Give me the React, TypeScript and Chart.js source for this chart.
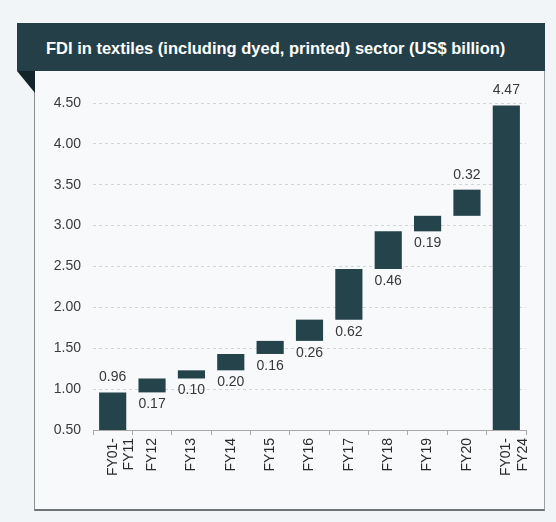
import React, { useEffect, useRef } from "react";
import { Chart, registerables } from "chart.js";

Chart.register(...registerables);

const categories: (string | string[])[] = [
  ["FY01-", "FY11"],
  "FY12",
  "FY13",
  "FY14",
  "FY15",
  "FY16",
  "FY17",
  "FY18",
  "FY19",
  "FY20",
  ["FY01-", "FY24"],
];
const increments = [0.96, 0.17, 0.1, 0.2, 0.16, 0.26, 0.62, 0.46, 0.19, 0.32];
const total = 4.47;
const yMin = 0.5;
const yMax = 4.5;
const yStep = 0.5;
const title = "FDI in textiles (including dyed, printed) sector (US$ billion)";

const labelAboveIdx = new Set([0, 9, 10]);

const FONT = '"Liberation Sans", Arial, sans-serif';

export default function App() {
  const ref = useRef<HTMLCanvasElement | null>(null);

  useEffect(() => {
    if (!ref.current) return;
    // waterfall ranges built from increments
    const ranges: [number, number][] = [];
    let acc = 0;
    increments.forEach((v, i) => {
      const start = i === 0 ? 0 : acc;
      acc = start + v;
      ranges.push([start, acc]);
    });
    ranges.push([0, total]);
    const labelValues = [...increments, total];

    const labelPlugin = {
      id: "wfLabels",
      afterDatasetsDraw(chart: any) {
        const ctx = chart.ctx;
        const meta = chart.getDatasetMeta(0);
        ctx.save();
        ctx.font = `14px ${FONT}`;
        ctx.fillStyle = "#383838";
        ctx.textAlign = "center";
        ctx.textBaseline = "alphabetic";
        meta.data.forEach((el: any, i: number) => {
          const top = Math.min(el.y, el.base);
          const bottom = Math.max(el.y, el.base);
          const txt = labelValues[i].toFixed(2);
          if (labelAboveIdx.has(i)) {
            ctx.fillText(txt, el.x, top - 11);
          } else {
            ctx.fillText(txt, el.x, bottom + 16);
          }
        });
        ctx.restore();
      },
    };

    const chart = new Chart(ref.current, {
      type: "bar",
      data: {
        labels: categories as any,
        datasets: [
          {
            data: ranges as any,
            backgroundColor: "#24434b",
            borderWidth: 0,
            barPercentage: 0.69,
            categoryPercentage: 1,
          },
        ],
      },
      options: {
        responsive: false,
        animation: false,
        layout: { padding: { top: 30, right: 18, left: 0, bottom: 0 } },
        plugins: {
          legend: { display: false },
          tooltip: { enabled: false },
        },
        scales: {
          x: {
            afterFit: (s: any) => {
              s.height = 79;
            },
            grid: {
              display: true,
              drawOnChartArea: false,
              drawTicks: true,
              tickLength: 5,
              color: "#a8a8a8",
            },
            border: { display: true, color: "#a8a8a8", width: 1 },
            ticks: {
              minRotation: 90,
              maxRotation: 90,
              autoSkip: false,
              padding: 3,
              color: "#2a2a2a",
              font: { family: FONT, size: 14 },
            },
          },
          y: {
            min: yMin,
            max: yMax,
            afterFit: (s: any) => {
              s.width = 58;
            },
            grid: {
              color: "#d2d4d6",
              drawTicks: false,
              lineWidth: 1,
            },
            border: { display: false, dash: [3, 3] },
            ticks: {
              stepSize: yStep,
              padding: 12,
              color: "#3a3a3a",
              font: { family: FONT, size: 14 },
              callback: (v: any) => Number(v).toFixed(2),
            },
          },
        },
      },
      plugins: [labelPlugin],
    });
    return () => chart.destroy();
  }, []);

  return (
    <div
      style={{
        position: "absolute",
        left: 0,
        top: 0,
        width: 556,
        height: 522,
        background: "#f2f5f7",
        overflow: "hidden",
      }}
    >
      {/* chart box */}
      <div
        style={{
          position: "absolute",
          left: 34,
          top: 71,
          width: 509,
          height: 438,
          background: "#f7f9fb",
          borderLeft: "1px solid #8a8f92",
          borderRight: "1px solid #9a9fa2",
          borderBottom: "2px solid #6f7477",
        }}
      />
      {/* header */}
      <div
        style={{
          position: "absolute",
          left: 17,
          top: 23,
          width: 528,
          height: 48,
          background: "#243f47",
          color: "#ffffff",
          fontFamily: FONT,
          fontWeight: "bold",
          fontSize: 16.5,
          lineHeight: "50px",
          boxSizing: "border-box",
          paddingLeft: 29,
          whiteSpace: "nowrap",
        }}
      >
        {title}
      </div>
      {/* fold triangle */}
      <svg
        style={{ position: "absolute", left: 17, top: 71 }}
        width={18}
        height={22}
      >
        <polygon points="0,0 18,0 18,22" fill="#13252b" />
      </svg>
      <canvas
        ref={ref}
        width={509}
        height={436}
        style={{ position: "absolute", left: 35, top: 73, width: 509, height: 436 }}
      />
    </div>
  );
}
